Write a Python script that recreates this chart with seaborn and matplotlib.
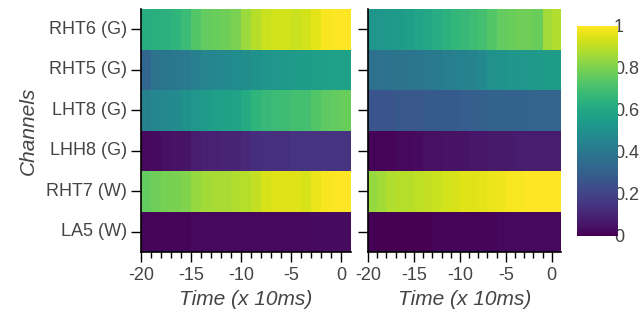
import numpy as np
import pandas as pd
import matplotlib
matplotlib.use("Agg")
import matplotlib.pyplot as plt
import seaborn as sns

# ─────────────────────────────────────────────────────
# DONNÉES
# ─────────────────────────────────────────────────────

channels = ["RHT6 (G)", "RHT5 (G)", "LHT8 (G)", "LHH8 (G)", "RHT7 (W)", "LA5 (W)"]
times = list(range(-20, 1))
time_ticks = [-20, -15, -10, -5, 0]
cbar_ticks = [0, 0.2, 0.4, 0.6, 0.8, 1]
cbar_labels = ["0", "0.2", "0.4", "0.6", "0.8", "1"]

# panneau gauche : une ligne par canal, 21 pas de temps (-20 .. 0)
left_values = [
    [0.62, 0.63, 0.64, 0.65, 0.68, 0.73, 0.76, 0.77, 0.78, 0.80, 0.85, 0.89, 0.92, 0.93, 0.93, 0.92, 0.93, 0.96, 0.99, 1.00, 1.00],
    [0.33, 0.38, 0.39, 0.40, 0.41, 0.43, 0.45, 0.46, 0.47, 0.48, 0.49, 0.51, 0.52, 0.53, 0.54, 0.55, 0.55, 0.56, 0.56, 0.57, 0.57],
    [0.43, 0.46, 0.47, 0.48, 0.50, 0.53, 0.55, 0.56, 0.57, 0.58, 0.61, 0.65, 0.67, 0.68, 0.69, 0.70, 0.70, 0.73, 0.75, 0.76, 0.77],
    [0.02, 0.03, 0.04, 0.05, 0.05, 0.08, 0.09, 0.09, 0.10, 0.10, 0.11, 0.13, 0.14, 0.14, 0.14, 0.15, 0.15, 0.15, 0.15, 0.15, 0.15],
    [0.76, 0.78, 0.79, 0.80, 0.81, 0.84, 0.86, 0.87, 0.87, 0.88, 0.89, 0.91, 0.94, 0.95, 0.95, 0.95, 0.94, 0.97, 0.99, 1.00, 1.00],
    [0.01, 0.01, 0.01, 0.01, 0.01, 0.02, 0.02, 0.02, 0.02, 0.02, 0.02, 0.02, 0.02, 0.02, 0.02, 0.02, 0.02, 0.03, 0.03, 0.03, 0.03],
]

# panneau droit
right_values = [
    [0.52, 0.53, 0.54, 0.55, 0.56, 0.58, 0.60, 0.62, 0.64, 0.66, 0.67, 0.69, 0.70, 0.73, 0.76, 0.77, 0.78, 0.78, 0.77, 0.86, 0.88],
    [0.37, 0.37, 0.38, 0.38, 0.38, 0.39, 0.40, 0.41, 0.42, 0.43, 0.44, 0.45, 0.47, 0.50, 0.51, 0.52, 0.53, 0.53, 0.54, 0.55, 0.55],
    [0.26, 0.26, 0.26, 0.27, 0.27, 0.27, 0.28, 0.28, 0.28, 0.28, 0.29, 0.30, 0.30, 0.31, 0.31, 0.31, 0.31, 0.32, 0.32, 0.32, 0.32],
    [0.01, 0.01, 0.01, 0.02, 0.02, 0.03, 0.04, 0.04, 0.05, 0.05, 0.05, 0.06, 0.06, 0.07, 0.07, 0.07, 0.08, 0.08, 0.08, 0.08, 0.08],
    [0.84, 0.86, 0.88, 0.89, 0.89, 0.90, 0.91, 0.92, 0.93, 0.94, 0.95, 0.95, 0.96, 0.97, 0.98, 0.99, 0.99, 1.00, 1.00, 1.00, 1.00],
    [0.00, 0.00, 0.00, 0.00, 0.00, 0.00, 0.00, 0.01, 0.01, 0.01, 0.01, 0.01, 0.01, 0.01, 0.02, 0.02, 0.02, 0.02, 0.02, 0.02, 0.02],
]

# ─────────────────────────────────────────────────────
# STYLE
# ─────────────────────────────────────────────────────

sns.set_style("white")
plt.rcParams["font.family"] = ["Liberation Sans", "DejaVu Sans"]
TEXT_COLOR = "#444444"

fig = plt.figure(figsize=(6.42, 3.22), dpi=100)
ax_left = fig.add_axes([141 / 642, 70 / 322, 210 / 642, 243 / 322])
ax_right = fig.add_axes([368 / 642, 70 / 322, 193 / 642, 243 / 322])
ax_cbar = fig.add_axes([577 / 642, 86 / 322, 41 / 642, 210 / 322])


def draw_panel(ax, values, show_labels, cbar_ax=None):
    df = pd.DataFrame(values, index=channels, columns=times)
    sns.heatmap(
        df, ax=ax, cmap="viridis", vmin=0, vmax=1,
        cbar=cbar_ax is not None, cbar_ax=cbar_ax,
        xticklabels=False, yticklabels=True,
    )
    # chaque cellule t occupe [t, t+1] -> tick au bord gauche de la cellule
    ax.set_xticks([t - times[0] for t in time_ticks])
    ax.set_xticklabels([str(t) for t in time_ticks])
    ax.set_xticks(range(len(times)), minor=True)
    ax.tick_params(axis="x", which="major", length=7, width=1, color="black",
                   bottom=True, labelsize=13, labelcolor=TEXT_COLOR, pad=4)
    ax.tick_params(axis="x", which="minor", length=4, width=1, color="black", bottom=True)
    ax.tick_params(axis="y", length=7, width=1, color="black", left=True,
                   labelsize=13, labelcolor=TEXT_COLOR, pad=3)
    ax.set_yticklabels(channels if show_labels else [], rotation=0)
    for side in ["left", "bottom"]:
        ax.spines[side].set_visible(True)
        ax.spines[side].set_color("black")
        ax.spines[side].set_linewidth(1.2)
    ax.set_xlabel("Time (x 10ms)", fontsize=15, fontstyle="italic", color=TEXT_COLOR, labelpad=4)
    if show_labels:
        ax.set_ylabel("Channels", fontsize=15, fontstyle="italic", color=TEXT_COLOR, labelpad=6)
    else:
        ax.set_ylabel("")


draw_panel(ax_left, left_values, True)
draw_panel(ax_right, right_values, False, cbar_ax=ax_cbar)

# barre de couleur
ax_cbar.set_yticks(cbar_ticks)
ax_cbar.set_yticklabels(cbar_labels)
ax_cbar.tick_params(axis="y", direction="in", length=5, width=1, color="white",
                    labelsize=13, labelcolor=TEXT_COLOR, pad=-3, right=True)
for s in ax_cbar.spines.values():
    s.set_visible(False)

fig.savefig("out.png", dpi=100)
